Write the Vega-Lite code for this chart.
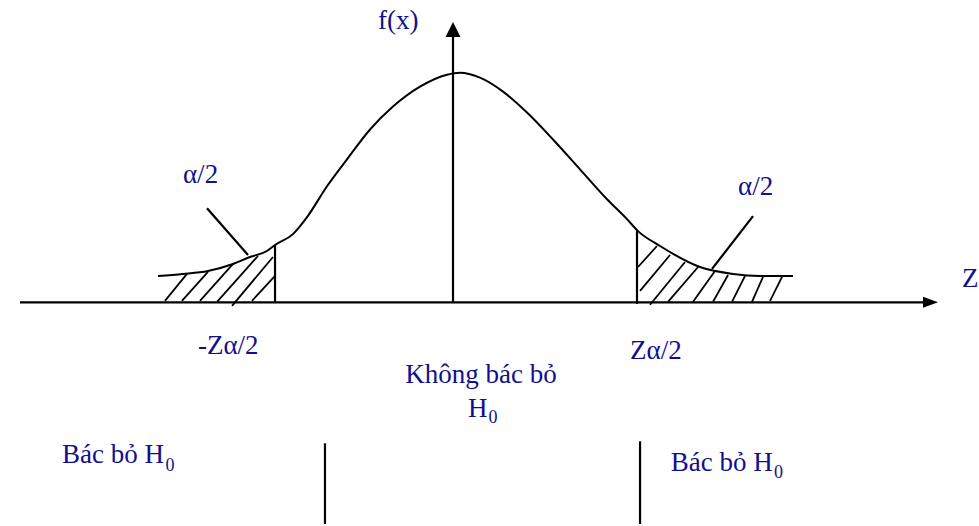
{
  "$schema": "https://vega.github.io/schema/vega-lite/v6.json",
  "width": 979,
  "height": 526,
  "padding": 0,
  "autosize": {"type": "fit", "contains": "padding"},
  "background": "white",
  "view": {"stroke": null},
  "config": {"text": {"font": "Liberation Serif", "fontSize": 27, "color": "#10108f", "align": "left", "baseline": "alphabetic"}},
  "datasets": {
    "curve": [
      {"z": -3.189, "f": 0.0461}, {"z": -2.919, "f": 0.0496}, {"z": -2.649, "f": 0.0548},
      {"z": -2.378, "f": 0.0670}, {"z": -2.195, "f": 0.0791}, {"z": -2.011, "f": 0.0896},
      {"z": -1.924, "f": 0.1000}, {"z": -1.730, "f": 0.1191}, {"z": -1.578, "f": 0.1487},
      {"z": -1.362, "f": 0.2026}, {"z": -1.146, "f": 0.2496}, {"z": -0.897, "f": 0.3017},
      {"z": -0.649, "f": 0.3417}, {"z": -0.357, "f": 0.3765}, {"z": -0.065, "f": 0.3974},
      {"z": 0.076, "f": 0.4009}, {"z": 0.292, "f": 0.3922}, {"z": 0.541, "f": 0.3678},
      {"z": 0.800, "f": 0.3313}, {"z": 1.081, "f": 0.2843}, {"z": 1.373, "f": 0.2322},
      {"z": 1.665, "f": 0.1800}, {"z": 1.881, "f": 0.1452}, {"z": 2.000, "f": 0.1243},
      {"z": 2.238, "f": 0.0983}, {"z": 2.670, "f": 0.0617}, {"z": 3.027, "f": 0.0496},
      {"z": 3.319, "f": 0.0461}, {"z": 3.676, "f": 0.0461}
    ],
    "lines": [
      {"part": "z axis", "x": -4.681, "y": 0, "x2": 5.081, "y2": 0},
      {"part": "f axis", "x": 0, "y": 0, "x2": 0, "y2": 0.4635},
      {"part": "left critical", "x": -1.924, "y": 0, "x2": -1.924, "y2": 0.1},
      {"part": "right critical", "x": 1.989, "y": -0.003, "x2": 1.989, "y2": 0.1243},
      {"part": "left leader", "x": -2.659, "y": 0.1643, "x2": -2.216, "y2": 0.0826},
      {"part": "right leader", "x": 3.243, "y": 0.1504, "x2": 2.8, "y2": 0.0583},
      {"part": "bottom left", "x": -1.384, "y": -0.2461, "x2": -1.384, "y2": -0.387},
      {"part": "bottom right", "x": 2.022, "y": -0.2426, "x2": 2.022, "y2": -0.387}
    ],
    "hatch": [
      {"x": -3.114, "y": 0.0026, "x2": -2.876, "y2": 0.0496},
      {"x": -2.930, "y": 0.0026, "x2": -2.649, "y2": 0.0530},
      {"x": -2.735, "y": 0.0026, "x2": -2.378, "y2": 0.0670},
      {"x": -2.551, "y": 0.0009, "x2": -2.108, "y2": 0.0809},
      {"x": -2.389, "y": -0.0061, "x2": -1.946, "y2": 0.0791},
      {"x": -2.173, "y": 0.0026, "x2": -1.924, "y2": 0.0461},
      {"x": 2.000, "y": 0.0617, "x2": 2.205, "y2": 0.0983},
      {"x": 2.022, "y": 0.0200, "x2": 2.346, "y2": 0.0826},
      {"x": 2.130, "y": -0.0043, "x2": 2.508, "y2": 0.0704},
      {"x": 2.324, "y": 0.0009, "x2": 2.649, "y2": 0.0617},
      {"x": 2.595, "y": 0.0009, "x2": 2.832, "y2": 0.0548},
      {"x": 2.811, "y": 0.0009, "x2": 2.973, "y2": 0.0478},
      {"x": 3.016, "y": 0.0009, "x2": 3.157, "y2": 0.0461},
      {"x": 3.232, "y": 0.0009, "x2": 3.351, "y2": 0.0443},
      {"x": 3.427, "y": 0.0026, "x2": 3.557, "y2": 0.0443}
    ],
    "arrowRight": [{"x": 5.162, "y": 0}],
    "arrowUp": [{"x": 0, "y": 0.4765}],
    "labels": [
      {"text": "f(x)", "x": -0.811, "y": 0.4774},
      {"text": "α/2", "x": -2.919, "y": 0.2078},
      {"text": "α/2", "x": 3.081, "y": 0.187},
      {"text": "Z", "x": 5.503, "y": 0.027},
      {"text": "-Zα/2", "x": -2.757, "y": -0.0896},
      {"text": "Zα/2", "x": 1.914, "y": -0.0995},
      {"text": "Không bác bỏ", "x": -0.517, "y": -0.1417},
      {"text": "H", "x": 0.162, "y": -0.1997},
      {"text": "Bác bỏ H", "x": -4.227, "y": -0.2809},
      {"text": "Bác bỏ H", "x": 2.354, "y": -0.2943}
    ],
    "subscripts": [
      {"text": "0", "x": 0.384, "y": -0.2101},
      {"text": "0", "x": -3.108, "y": -0.2936},
      {"text": "0", "x": 3.47, "y": -0.307}
    ]
  },
  "encoding": {
    "x": {"field": "x", "type": "quantitative", "axis": null, "scale": {"domain": [-4.897, 5.686], "nice": false, "zero": false}},
    "y": {"field": "y", "type": "quantitative", "axis": null, "scale": {"domain": [-0.387, 0.5278], "nice": false, "zero": false}}
  },
  "layer": [
    {
      "data": {"name": "curve"},
      "mark": {"type": "line", "color": "black", "strokeWidth": 2, "interpolate": "monotone"},
      "encoding": {
        "x": {"field": "z", "type": "quantitative"},
        "y": {"field": "f", "type": "quantitative"}
      }
    },
    {
      "data": {"name": "lines"},
      "mark": {"type": "rule", "color": "black", "strokeWidth": 2.2},
      "encoding": {
        "x2": {"field": "x2"},
        "y2": {"field": "y2"}
      }
    },
    {
      "data": {"name": "hatch"},
      "mark": {"type": "rule", "color": "black", "strokeWidth": 1.8},
      "encoding": {
        "x2": {"field": "x2"},
        "y2": {"field": "y2"}
      }
    },
    {
      "data": {"name": "arrowRight"},
      "mark": {"type": "point", "shape": "M-1,-0.73L1,0L-1,0.73Z", "size": 225, "filled": true, "color": "black", "opacity": 1}
    },
    {
      "data": {"name": "arrowUp"},
      "mark": {"type": "point", "shape": "M-1,1L0,-1L1,1Z", "size": 225, "filled": true, "color": "black", "opacity": 1}
    },
    {
      "data": {"name": "labels"},
      "mark": {"type": "text"},
      "encoding": {"text": {"field": "text"}}
    },
    {
      "data": {"name": "subscripts"},
      "mark": {"type": "text", "fontSize": 18},
      "encoding": {"text": {"field": "text"}}
    }
  ]
}
